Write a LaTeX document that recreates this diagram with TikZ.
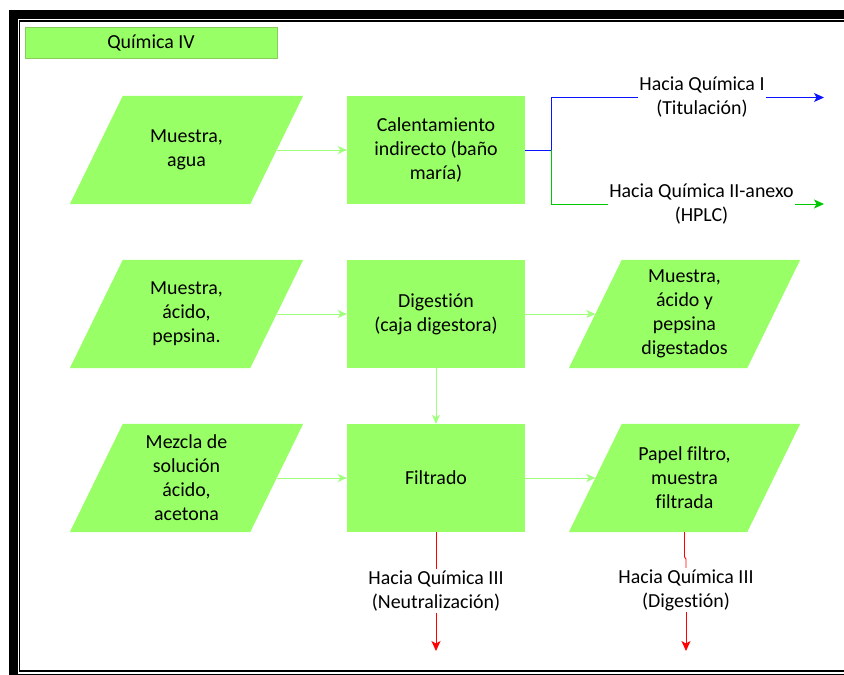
\documentclass[tikz,border=0pt]{standalone}
\usepackage{fontspec}
\setmainfont{Carlito}[Ligatures=NoCommon]
\usetikzlibrary{arrows.meta,backgrounds}
\definecolor{boxgreen}{RGB}{153,255,102}
\definecolor{boxedge}{RGB}{135,205,90}
\definecolor{flowgreen}{RGB}{160,255,125}
\definecolor{linkblue}{RGB}{10,20,255}
\definecolor{linkgreen}{RGB}{0,200,0}
\definecolor{linkred}{RGB}{255,0,0}
% parallelogram (data) shape drawn behind a rectangular text node
\newcommand\iofill[1]{%
  \fill[boxgreen] ([xshift=26.5pt]#1.north west) -- ([xshift=26.5pt]#1.north east)
    -- ([xshift=-26.5pt]#1.south east) -- ([xshift=-26.5pt]#1.south west) -- cycle;}
\begin{document}
\begin{tikzpicture}[x=1pt,y=-1pt,
  font=\fontsize{19.9}{24}\selectfont,
  txt/.style={align=center,inner sep=0pt},
  procbox/.style={txt,fill=boxgreen,minimum width=178pt,minimum height=108pt},
  leftio/.style={txt,minimum width=180pt,minimum height=108pt},
  rightio/.style={txt,minimum width=178pt,minimum height=108pt},
  label/.style={align=center,inner sep=1.5pt},
  flow/.style={draw=flowgreen,line width=0.9pt,-{Stealth[length=9pt,width=8pt,inset=2.5pt]}},
  link/.style={line width=0.9pt},
  linktip/.style={link,-{Stealth[length=10pt,width=9pt,inset=2.5pt]}}]
\useasboundingbox (0,0) rectangle (844,675);

% double frame
\fill[black] (9,10) rectangle (844,18.5);
\fill[black] (9,10) rectangle (17.5,675);
\fill[black] (9,673.5) rectangle (844,675);
\draw[black,line width=1.6pt] (844,21) -- (19.5,21) -- (19.5,671) -- (844,671);

% title
\node[txt,fill=boxgreen,draw=boxedge,line width=1pt,minimum width=252pt,minimum height=31pt]
  (title) at (151,42.5) {Química IV};

% row 1
\node[leftio] (p1) at (186.5,150) {Muestra,\\agua};
\node[procbox] (r1) at (436,150) {Calentamiento\\indirecto (baño\\maría)};
\node[label] (h1) at (702,97.5) {Hacia Química I\\(Titulación)};
\node[label] (h2) at (701.5,204) {Hacia Química II-anexo\\(HPLC)};
\coordinate (j) at (551,150);
\coordinate (t1) at (824,97.5);
\coordinate (t2) at (824,204);

% row 2
\node[leftio] (p2) at (186.5,314) {Muestra,\\ácido,\\pepsina.};
\node[procbox] (r2) at (436,314) {Digestión\\(caja digestora)};
\node[rightio] (q2) at (684.5,314) {Muestra,\\ácido y\\pepsina\\digestados};

% row 3
\node[leftio] (p3) at (186.5,478) {Mezcla de\\solución\\ácido,\\acetona};
\node[procbox] (r3) at (436,478) {Filtrado};
\node[rightio] (q3) at (684.5,478) {Papel filtro,\\muestra\\filtrada};
\node[label] (h3) at (436,591) {Hacia Química III\\(Neutralización)};
\node[label] (h4) at (686,590) {Hacia Química III\\(Digestión)};
\coordinate (t3) at (436,651);
\coordinate (t4) at (686,651);
\coordinate (k1) at (684.5,557);
\coordinate (k2) at (686,559);

\begin{scope}[on background layer]
  \iofill{p1} \iofill{p2} \iofill{p3} \iofill{q2} \iofill{q3}
\end{scope}

% connectors
\draw[flow] (p1.east) -- (r1.west);
\draw[flow] (p2.east) -- (r2.west);
\draw[flow] (r2.east) -- (q2.west);
\draw[flow] (r2.south) -- (r3.north);
\draw[flow] (p3.east) -- (r3.west);
\draw[flow] (r3.east) -- (q3.west);

\draw[link,linkblue] (r1.east) -- (j) |- (h1.west);
\draw[linktip,linkblue] (h1.east) -- (t1);
\draw[link,linkgreen] (j) |- (h2.west);
\draw[linktip,linkgreen] (h2.east) -- (t2);

\draw[link,linkred] (r3.south) -- (h3.north);
\draw[linktip,linkred] (h3.south) -- (t3);
\draw[link,linkred] (q3.south) -- (k1) -- (k2) -- (h4.north);
\draw[linktip,linkred] (h4.south) -- (t4);
\end{tikzpicture}
\end{document}
